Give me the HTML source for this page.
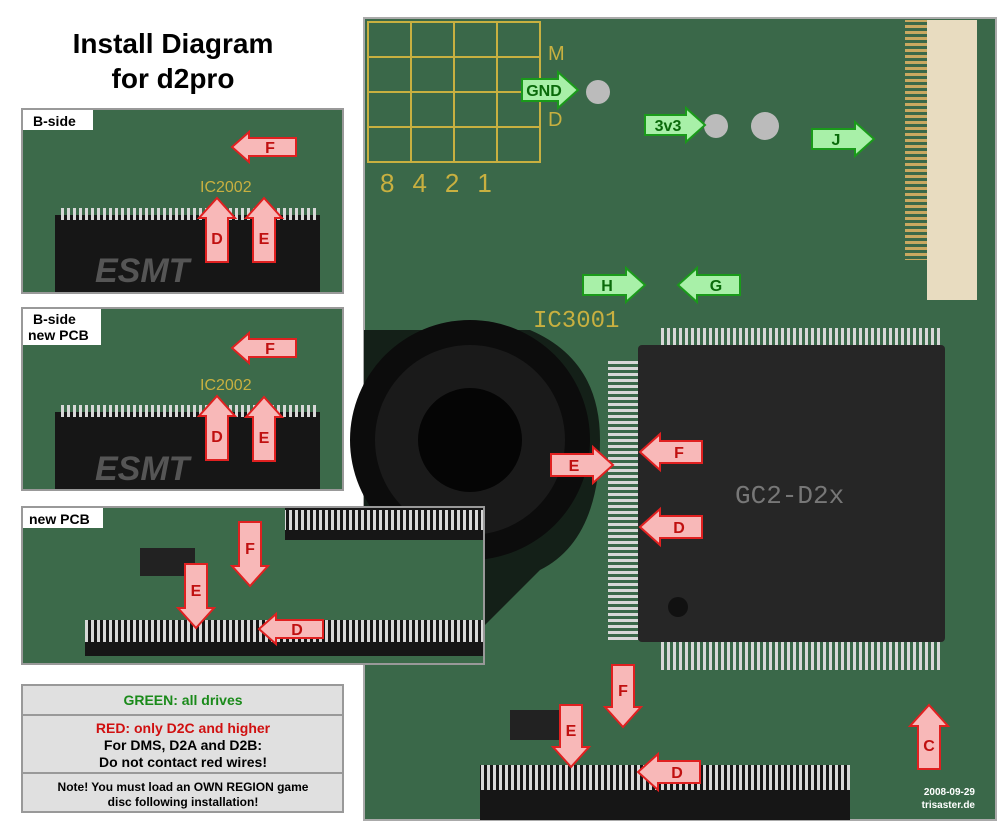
<!DOCTYPE html>
<html><head><meta charset="utf-8"><style>
body{margin:0;background:#fff;width:1004px;height:833px;overflow:hidden;font-family:"Liberation Sans",sans-serif}
svg{display:block}
</style></head><body>
<svg width="1004" height="833" viewBox="0 0 1004 833" xmlns="http://www.w3.org/2000/svg" font-family="Liberation Sans, sans-serif">
<defs>
<pattern id="pins" width="6" height="20" patternUnits="userSpaceOnUse"><rect x="1" y="0" width="3" height="20" fill="#d8d8d8"/></pattern>
<pattern id="pinsv" width="20" height="6" patternUnits="userSpaceOnUse"><rect x="0" y="1" width="20" height="3" fill="#d8d8d8"/></pattern>
<pattern id="fpc" width="20" height="6" patternUnits="userSpaceOnUse"><rect x="0" y="1" width="20" height="3" fill="#c9a860"/></pattern>
</defs>
<text x="173" y="53" font-size="28" font-weight="bold" text-anchor="middle">Install Diagram</text>
<text x="173" y="88" font-size="28" font-weight="bold" text-anchor="middle">for d2pro</text>

<rect x="22" y="109" width="321" height="184" fill="#3c6a4a" stroke="#999" stroke-width="2"/>
<rect x="55" y="215" width="265" height="77" fill="#161616"/>
<rect x="60" y="208" width="258" height="12" fill="url(#pins)"/>
<text x="95" y="282" font-size="34" font-weight="bold" font-style="italic" fill="#555">ESMT</text>
<text x="200" y="192" font-size="16" fill="#c8b040">IC2002</text>
<rect x="23" y="110" width="70" height="20" fill="#fff"/>
<text x="33" y="126" font-size="14" font-weight="bold">B-side</text>

<rect x="22" y="308" width="321" height="182" fill="#3c6a4a" stroke="#999" stroke-width="2"/>
<rect x="55" y="412" width="265" height="77" fill="#161616"/>
<rect x="60" y="405" width="258" height="12" fill="url(#pins)"/>
<text x="95" y="480" font-size="34" font-weight="bold" font-style="italic" fill="#555">ESMT</text>
<text x="200" y="390" font-size="16" fill="#c8b040">IC2002</text>
<rect x="23" y="309" width="78" height="36" fill="#fff"/>
<text x="33" y="324" font-size="14" font-weight="bold">B-side</text>
<text x="28" y="340" font-size="14" font-weight="bold">new PCB</text>

<rect x="22" y="685" width="321" height="127" fill="#e0e0e0" stroke="#999" stroke-width="2"/>
<line x1="22" y1="715" x2="343" y2="715" stroke="#999" stroke-width="2"/>
<line x1="22" y1="773" x2="343" y2="773" stroke="#999" stroke-width="2"/>
<text x="183" y="705" font-size="14" font-weight="bold" fill="#1a8a1a" text-anchor="middle">GREEN: all drives</text>
<text x="183" y="733" font-size="14" font-weight="bold" fill="#d01010" text-anchor="middle">RED: only D2C and higher</text>
<text x="183" y="750" font-size="14" font-weight="bold" text-anchor="middle">For DMS, D2A and D2B:</text>
<text x="183" y="767" font-size="14" font-weight="bold" text-anchor="middle">Do not contact red wires!</text>
<text x="183" y="791" font-size="12" font-weight="bold" text-anchor="middle">Note! You must load an OWN REGION game</text>
<text x="183" y="806" font-size="12" font-weight="bold" text-anchor="middle">disc following installation!</text>

<rect x="364" y="18" width="632" height="802" fill="#3a6849" stroke="#aaa" stroke-width="2"/>
<g stroke="#c8b040" stroke-width="2" fill="none">
<rect x="368" y="22" width="172" height="140"/>
<line x1="368" y1="57" x2="540" y2="57"/><line x1="368" y1="92" x2="540" y2="92"/><line x1="368" y1="127" x2="540" y2="127"/>
<line x1="411" y1="22" x2="411" y2="162"/><line x1="454" y1="22" x2="454" y2="162"/><line x1="497" y1="22" x2="497" y2="162"/>
</g>
<text x="380" y="192" font-size="26" fill="#c8b040" letter-spacing="18">8421</text>
<text x="548" y="60" font-size="20" fill="#c8b040">M</text>
<text x="548" y="126" font-size="20" fill="#c8b040">D</text>
<rect x="905" y="20" width="22" height="240" fill="url(#fpc)"/>
<rect x="927" y="20" width="50" height="280" fill="#e8dcc0"/>
<path d="M364 330 L530 330 Q600 360 600 440 Q600 540 540 570 L470 640 L364 660 Z" fill="#142018"/>
<circle cx="470" cy="440" r="120" fill="#0c0c0c"/>
<circle cx="470" cy="440" r="95" fill="#1a1a1a"/>
<circle cx="470" cy="440" r="52" fill="#050505"/>
<text x="533" y="327" font-size="24" fill="#c8b040" font-family="Liberation Mono, monospace">IC3001</text>
<rect x="608" y="360" width="30" height="280" fill="url(#pinsv)"/>
<rect x="660" y="640" width="280" height="30" fill="url(#pins)"/>
<rect x="660" y="328" width="280" height="22" fill="url(#pins)"/>
<rect x="638" y="345" width="307" height="297" rx="4" fill="#262626"/>
<circle cx="678" cy="607" r="10" fill="#111"/>
<text x="735" y="503" font-size="26" fill="#777" font-family="Liberation Mono, monospace">GC2-D2x</text>
<rect x="480" y="765" width="370" height="55" fill="#161616"/>
<rect x="480" y="765" width="370" height="25" fill="url(#pins)"/>
<rect x="510" y="710" width="50" height="30" fill="#222"/>
<circle cx="598" cy="92" r="12" fill="#bbb"/><circle cx="716" cy="126" r="12" fill="#bbb"/><circle cx="765" cy="126" r="14" fill="#bbb"/>
<text x="975" y="795" font-size="10" font-weight="bold" fill="#fff" text-anchor="end">2008-09-29</text>
<text x="975" y="808" font-size="10" font-weight="bold" fill="#fff" text-anchor="end">trisaster.de</text>

<rect x="22" y="507" width="462" height="157" fill="#3c6a4a" stroke="#999" stroke-width="2"/>
<rect x="285" y="508" width="198" height="32" fill="#161616"/>
<rect x="285" y="510" width="198" height="20" fill="url(#pins)"/>
<rect x="85" y="620" width="398" height="36" fill="#161616"/>
<rect x="85" y="620" width="398" height="22" fill="url(#pins)"/>
<rect x="140" y="548" width="55" height="28" fill="#222"/>
<rect x="23" y="508" width="80" height="20" fill="#fff"/>
<text x="29" y="524" font-size="14" font-weight="bold">new PCB</text>

<g stroke-width="2" stroke-linejoin="miter">
<g fill="#a8f0a8" stroke="#1a9a1a">
<polygon transform="translate(550,90)" points="-28,-11 8,-11 8,-18 28,0 8,18 8,11 -28,11"/>
<polygon transform="translate(675,125)" points="-30,-10 11,-10 11,-17 30,0 11,17 11,10 -30,10"/>
<polygon transform="translate(843,139)" points="-31,-10 12,-10 12,-17 31,0 12,17 12,10 -31,10"/>
<polygon transform="translate(614,285)" points="-31,-10 12,-10 12,-17 31,0 12,17 12,10 -31,10"/>
<polygon transform="translate(709,285) rotate(180)" points="-31,-10 12,-10 12,-17 31,0 12,17 12,10 -31,10"/>
</g>
<g fill="#f8b8b8" stroke="#e02020">
<polygon transform="translate(582,465)" points="-31,-11 11,-11 11,-18 31,0 11,18 11,11 -31,11"/>
<polygon transform="translate(671,452) rotate(180)" points="-31,-11 11,-11 11,-18 31,0 11,18 11,11 -31,11"/>
<polygon transform="translate(671,527) rotate(180)" points="-31,-11 11,-11 11,-18 31,0 11,18 11,11 -31,11"/>
<polygon transform="translate(623,696) rotate(90)" points="-31,-11 11,-11 11,-18 31,0 11,18 11,11 -31,11"/>
<polygon transform="translate(571,736) rotate(90)" points="-31,-11 11,-11 11,-18 31,0 11,18 11,11 -31,11"/>
<polygon transform="translate(669,772) rotate(180)" points="-31,-11 11,-11 11,-18 31,0 11,18 11,11 -31,11"/>
<polygon transform="translate(929,737) rotate(-90)" points="-32,-11 11,-11 11,-19 32,0 11,19 11,11 -32,11"/>
<polygon transform="translate(264,147) rotate(180)" points="-32,-9 15,-9 15,-15 32,0 15,15 15,9 -32,9"/>
<polygon transform="translate(217,230) rotate(-90)" points="-32,-11 12,-11 12,-18 32,0 12,18 12,11 -32,11"/>
<polygon transform="translate(264,230) rotate(-90)" points="-32,-11 12,-11 12,-18 32,0 12,18 12,11 -32,11"/>
<polygon transform="translate(264,348) rotate(180)" points="-32,-9 15,-9 15,-15 32,0 15,15 15,9 -32,9"/>
<polygon transform="translate(217,428) rotate(-90)" points="-32,-11 12,-11 12,-18 32,0 12,18 12,11 -32,11"/>
<polygon transform="translate(264,429) rotate(-90)" points="-32,-11 12,-11 12,-18 32,0 12,18 12,11 -32,11"/>
<polygon transform="translate(250,554) rotate(90)" points="-32,-11 12,-11 12,-18 32,0 12,18 12,11 -32,11"/>
<polygon transform="translate(196,596) rotate(90)" points="-32,-11 12,-11 12,-18 32,0 12,18 12,11 -32,11"/>
<polygon transform="translate(291,629) rotate(180)" points="-32,-9 15,-9 15,-15 32,0 15,15 15,9 -32,9"/>
</g>
</g>
<g font-size="16" font-weight="bold" text-anchor="middle">
<g fill="#0a6a0a">
<text x="544" y="96">GND</text><text x="668" y="131">3v3</text><text x="836" y="145">J</text>
<text x="607" y="291">H</text><text x="716" y="291">G</text>
</g>
<g fill="#c01010">
<text x="574" y="471">E</text><text x="679" y="458">F</text><text x="679" y="533">D</text>
<text x="623" y="696">F</text><text x="571" y="736">E</text><text x="677" y="778">D</text>
<text x="929" y="751">C</text>
<text x="270" y="153">F</text><text x="217" y="244">D</text><text x="264" y="244">E</text>
<text x="270" y="354">F</text><text x="217" y="442">D</text><text x="264" y="443">E</text>
<text x="250" y="554">F</text><text x="196" y="596">E</text><text x="297" y="635">D</text>
</g>
</g>
</svg>
</body></html>
